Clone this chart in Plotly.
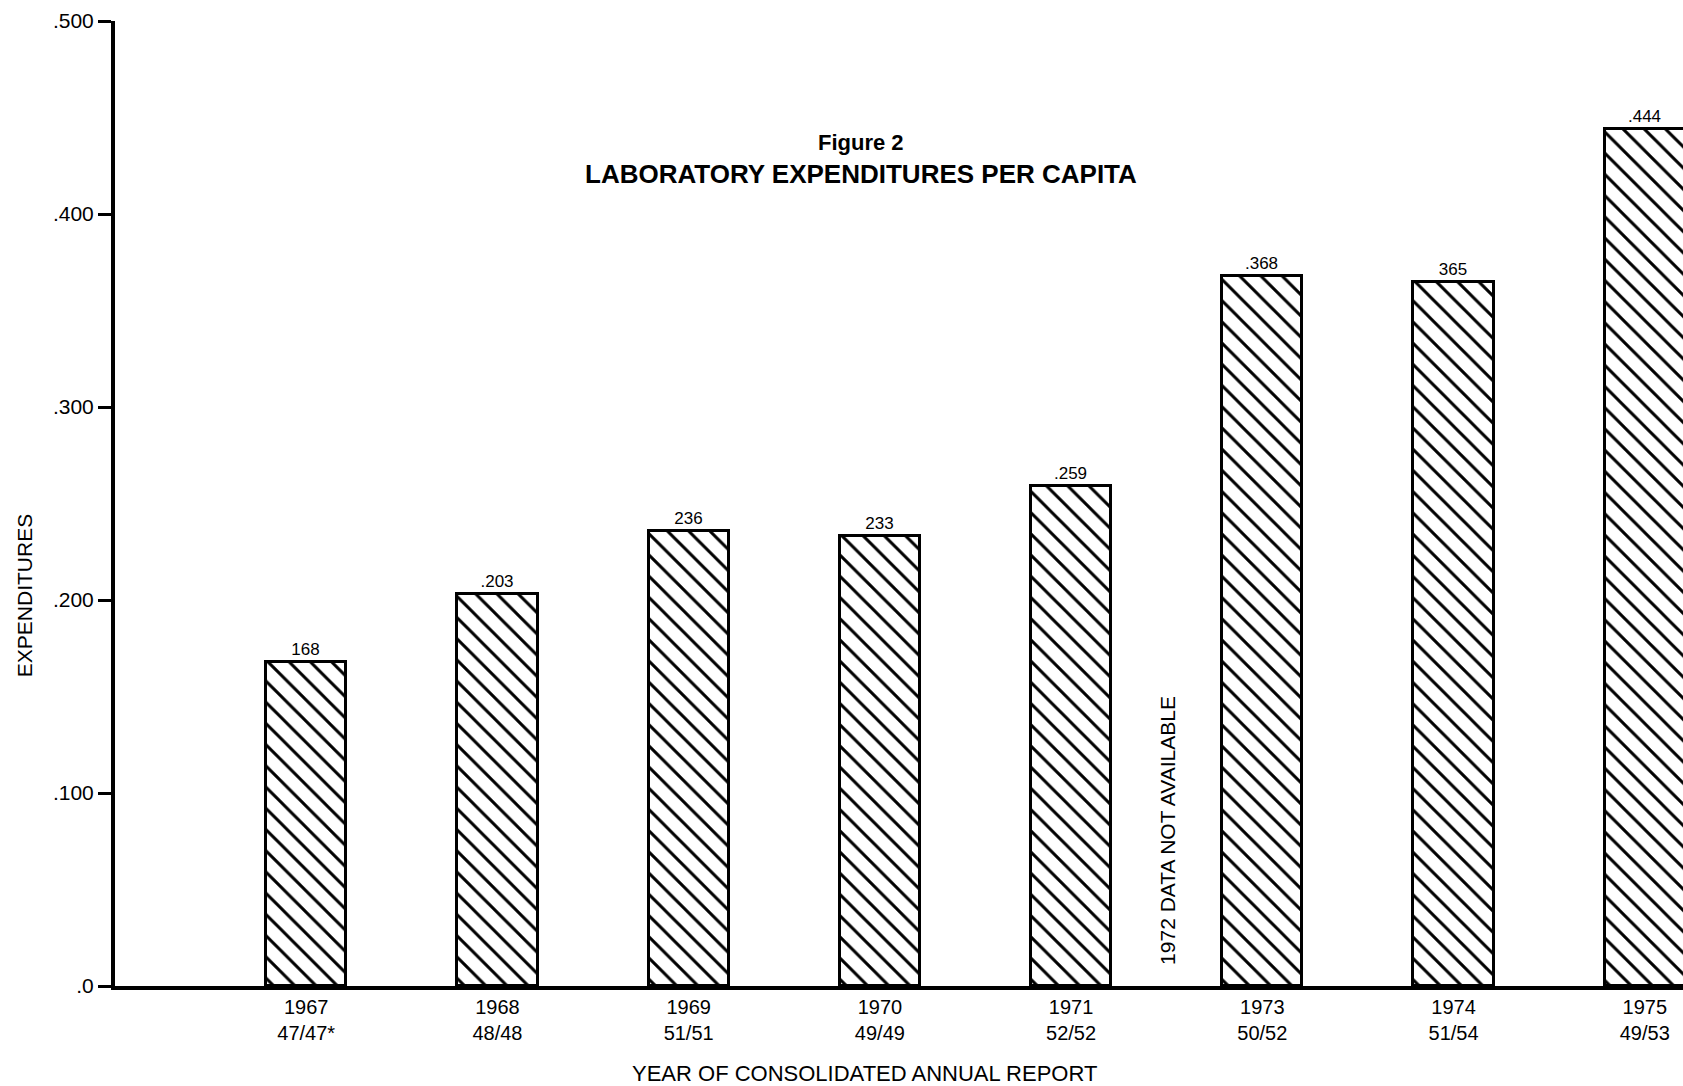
import plotly.graph_objects as go

years = ["1967", "1968", "1969", "1970", "1971", "1973", "1974", "1975"]
reports = ["47/47*", "48/48", "51/51", "49/49", "52/52", "50/52", "51/54", "49/53"]
values = [0.168, 0.203, 0.236, 0.233, 0.259, 0.368, 0.365, 0.444]
value_labels = ["168", ".203", "236", "233", ".259", ".368", "365", ".444"]
y_ticks = [0.0, 0.1, 0.2, 0.3, 0.4, 0.5]
y_tick_labels = [".0", ".100", ".200", ".300", ".400", ".500"]

FONT = "Liberation Sans, Arial, sans-serif"
pos = list(range(len(years)))

fig = go.Figure()
fig.add_trace(go.Bar(
    x=pos, y=values, width=0.42,
    text=value_labels, textposition="outside",
    textfont=dict(family=FONT, size=17, color="black"),
    cliponaxis=False,
    marker=dict(
        color="white",
        line=dict(color="black", width=3),
        pattern=dict(shape="\\", size=15, solidity=0.2,
                     fgcolor="black", bgcolor="white", fillmode="replace"),
    ),
    hoverinfo="skip",
))

fig.add_annotation(
    x=4.5, y=0.01, xref="x", yref="y", yanchor="bottom", xanchor="center",
    text="1972 DATA NOT AVAILABLE", textangle=-90, showarrow=False,
    font=dict(family=FONT, size=21, color="black"),
)

# titles
fig.add_annotation(x=0.476, y=0.8736, xref="paper", yref="paper",
                   xanchor="center", yanchor="middle",
                   text="<b>Figure 2</b>", showarrow=False,
                   font=dict(family=FONT, size=22, color="black"))
fig.add_annotation(x=0.476, y=0.8415, xref="paper", yref="paper",
                   xanchor="center", yanchor="middle",
                   text="<b>LABORATORY EXPENDITURES PER CAPITA</b>", showarrow=False,
                   font=dict(family=FONT, size=26, color="black"))
fig.add_annotation(x=0.478, y=-0.0902, xref="paper", yref="paper",
                   xanchor="center", yanchor="middle",
                   text="YEAR OF CONSOLIDATED ANNUAL REPORT", showarrow=False,
                   font=dict(family=FONT, size=22, color="black"))
fig.add_annotation(x=-0.058, y=0.404, xref="paper", yref="paper",
                   xanchor="center", yanchor="middle",
                   text="EXPENDITURES", textangle=-90, showarrow=False,
                   font=dict(family=FONT, size=21, color="black"))

fig.update_layout(
    width=1683, height=1086,
    margin=dict(l=115, r=0, t=21, b=100),
    plot_bgcolor="white", paper_bgcolor="white",
    showlegend=False,
    bargap=0,
    xaxis=dict(
        range=[-1.0, 7.2],
        tickmode="array", tickvals=pos,
        ticktext=[f"{y}<br>{r}" for y, r in zip(years, reports)],
        tickfont=dict(family=FONT, size=20, color="black"),
        showline=True, linecolor="black", linewidth=4,
        showgrid=False, zeroline=False, ticks="",
    ),
    yaxis=dict(
        range=[0, 0.5],
        tickmode="array", tickvals=y_ticks, ticktext=y_tick_labels,
        tickfont=dict(family=FONT, size=21, color="black"),
        ticks="outside", ticklen=13, tickwidth=3, tickcolor="black",
        showline=True, linecolor="black", linewidth=4,
        showgrid=False, zeroline=False,
    ),
)

fig.write_html(
    "out.html",
    config={"displayModeBar": False},
    post_script="document.body.style.margin='0';document.body.style.overflow='hidden';",
)
